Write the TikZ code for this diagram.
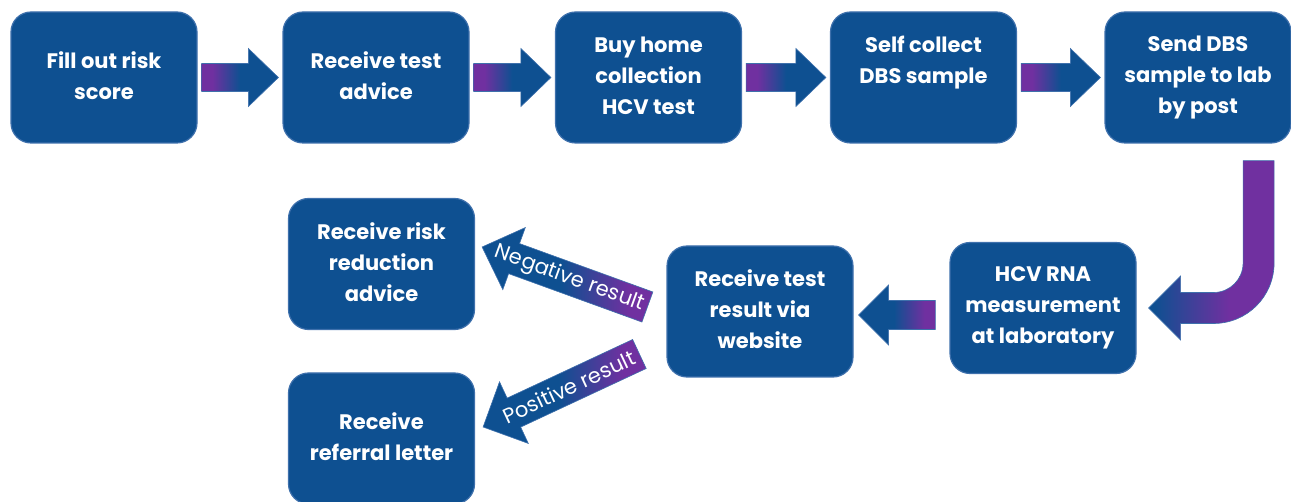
\documentclass[tikz,border=0pt]{standalone}
\usepackage{fontspec}
\setmainfont{Poppins}
\usetikzlibrary{calc,shadings}
\definecolor{boxblue}{RGB}{14,80,145}
\definecolor{edgeblue}{RGB}{62,112,172}
\definecolor{purp}{RGB}{112,48,160}
\pgfdeclarehorizontalshading{arrR}{100bp}{color(0bp)=(purp); color(32bp)=(purp); color(50bp)=(boxblue); color(100bp)=(boxblue)}
\pgfdeclarehorizontalshading{arrL}{100bp}{color(0bp)=(boxblue); color(48bp)=(boxblue); color(68bp)=(purp); color(100bp)=(purp)}
\pgfdeclarehorizontalshading{arrC}{100bp}{color(0bp)=(boxblue); color(27bp)=(boxblue); color(57bp)=(purp); color(100bp)=(purp)}
\newcommand\boxstrut{\rule[-4.5pt]{0pt}{35pt}}
\newcommand\rightblock[2]{%
  \path[blockarrow, shading=arrR] let \p1=($(#1.east)+(4pt,0pt)$), \p2=($(#2.west)-(4pt,0pt)$) in
   (\x1,\y1+14pt) -- (\x2-30pt,\y1+14pt) -- (\x2-30pt,\y1+29pt) -- (\x2,\y1)
   -- (\x2-30pt,\y1-29pt) -- (\x2-30pt,\y1-14pt) -- (\x1,\y1-14pt) -- cycle;}
\newcommand\slantblock[5]{% tail, tip, headbase name, shaft half, head half
  \coordinate (#3) at ($(#2)!34pt!(#1)$);
  \path[blockarrow, shading=arrL]
   ($(#1)!#4!90:(#2)$) -- ($(#3)!#4!90:(#2)$) -- ($(#3)!#5!90:(#2)$) -- (#2)
   -- ($(#3)!#5!-90:(#2)$) -- ($(#3)!#4!-90:(#2)$) -- ($(#1)!#4!-90:(#2)$) -- cycle;}
\begin{document}
\begin{tikzpicture}[x=1pt,y=-1pt,
  stepbox/.style={rectangle, rounded corners=20pt, fill=boxblue, draw=edgeblue,
    line width=1.2pt, minimum width=186pt, minimum height=131pt, inner sep=0pt,
    align=center, text=white, font=\bfseries\fontsize{21}{31}\selectfont,
    execute at begin node=\boxstrut, execute at end node=\boxstrut},
  blockarrow/.style={shade, draw=edgeblue, line width=0.6pt},
  arrlabel/.style={text=white, font=\fontsize{21}{22}\selectfont, inner sep=0pt}]
\useasboundingbox (0,0) rectangle (1291,502);
\node[stepbox] (b1) at (104,77.5) {Fill out risk\\score};
\node[stepbox] (b2) at (376,77.5) {Receive test\\advice};
\node[stepbox] (b3) at (648.5,77.5) {Buy home\\collection\\HCV test};
\node[stepbox] (b4) at (923.5,77.5) {Self collect\\DBS sample\\\mbox{}};
\node[stepbox] (b5) at (1198,77.5) {Send DBS\\sample to lab\\by post};
\node[stepbox] (hcv) at (1043,308) {HCV RNA\\measurement\\at laboratory};
\node[stepbox] (res) at (760,311.5) {Receive test\\result via\\website};
\node[stepbox] (risk) at (381.5,264) {Receive risk\\reduction\\advice};
\node[stepbox] (ref) at (381.5,438.5) {Receive\\referral letter};
% top row arrows
\rightblock{b1}{b2}
\rightblock{b2}{b3}
\rightblock{b3}{b4}
\rightblock{b4}{b5}
% curved arrow from b5 to hcv
\path[blockarrow, shading=arrC]
  let \p1=($(b5.south east)+(-33pt,-17pt)$), \p2=($(hcv.east)+(12pt,0pt)$) in
  (\x1+15.5pt,\y1) -- (\x1+15.5pt,\y2+45pt)
  .. controls (\x1+15.5pt,\y2+11.5pt) and (\x1-11.5pt,\y2-15.5pt) .. (\x1-45pt,\y2-15.5pt)
  -- (\x2+32pt,\y2-15.5pt) -- (\x2+32pt,\y2-32pt) -- (\x2,\y2) -- (\x2+32pt,\y2+32pt)
  -- (\x2+32pt,\y2+15.5pt) -- (\x1-45pt,\y2+15.5pt)
  .. controls (\x1-28.7pt,\y2+15.5pt) and (\x1-15.5pt,\y2+28.7pt) .. (\x1-15.5pt,\y2+45pt)
  -- (\x1-15.5pt,\y1) -- cycle;
% hcv -> res
\path[blockarrow, shading=arrL]
  let \p1=($(res.east)+(5pt,-3.5pt)$), \p2=($(hcv.west)+(-14pt,0pt)$) in
  (\x1,\y1) -- (\x1+30pt,\y1+30pt) -- (\x1+30pt,\y1+14.5pt) -- (\x2,\y1+14.5pt)
  -- (\x2,\y1-14.5pt) -- (\x1+30pt,\y1-14.5pt) -- (\x1+30pt,\y1-30pt) -- cycle;
% res -> risk (negative), res -> ref (positive)
\coordinate (negT) at ($(res.west)+(-19pt,4.5pt)$);
\coordinate (negH) at ($(risk.east)+(7pt,17pt)$);
\coordinate (posT) at ($(res.west)+(-27pt,-42.5pt)$);
\coordinate (posH) at ($(ref.east)+(8pt,11.5pt)$);
\slantblock{negT}{negH}{negB}{16pt}{33pt}
\slantblock{posT}{posH}{posB}{16pt}{34pt}
\path (negH) -- (negT) node[pos=0.53, sloped, arrlabel] {Negative result};
\path (posH) -- (posT) node[pos=0.55, sloped, arrlabel] {Positive result};
\end{tikzpicture}
\end{document}
